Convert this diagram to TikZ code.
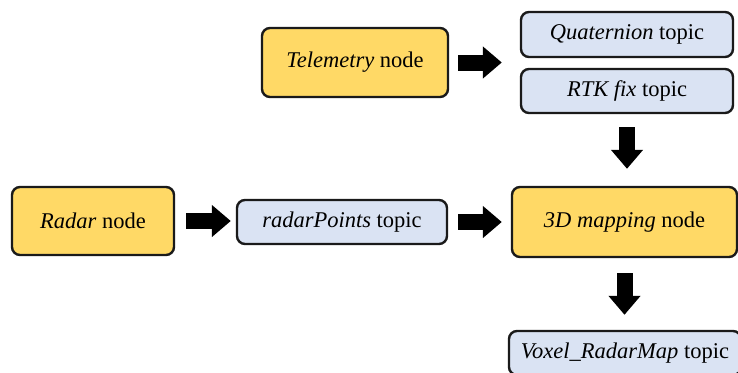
\documentclass[tikz,border=0pt]{standalone}
\usepackage{fontspec}
\setmainfont{Liberation Serif}
\usetikzlibrary{arrows.meta,calc}
\definecolor{nodeY}{HTML}{FFD966}
\definecolor{topicB}{HTML}{DAE3F3}
\definecolor{edgeK}{HTML}{1A1A1A}
\tikzset{
  box/.style={draw=edgeK, line width=2.4pt, rounded corners=8pt, inner sep=0pt,
    font=\fontsize{22.5}{26}\selectfont, align=center},
  rosnode/.style={box, fill=nodeY},
  rostopic/.style={box, fill=topicB},
  fatarrow/.style={line width=16pt, -{Triangle[length=19pt,width=31pt]}},
}
\begin{document}
\begin{tikzpicture}[x=1pt,y=-1pt]
\useasboundingbox (0,0) rectangle (738,372);
\begin{scope}
\clip (0,0) rectangle (738,372);
\node[rosnode, minimum width=186pt, minimum height=69pt] (tel) at (355,62.5) {\textit{Telemetry} node};
\node[rostopic, minimum width=212pt, minimum height=45pt] (quat) at (627,34.5) {\textit{Quaternion} topic};
\node[rostopic, minimum width=212pt, minimum height=44pt] (rtk) at (627,91) {\textit{RTK fix} topic};
\node[rosnode, minimum width=162pt, minimum height=68pt] (radar) at (93,221) {\textit{Radar} node};
\node[rostopic, minimum width=210pt, minimum height=44pt] (rp) at (342,222) {\textit{radarPoints} topic};
\node[rosnode, minimum width=225pt, minimum height=70pt] (map) at (624.5,222) {\textit{3D mapping} node};
\node[rostopic, minimum width=232pt, minimum height=44pt] (vox) at (625,353) {\textit{Voxel\_RadarMap} topic};
\coordinate (qr) at ($(quat.south west)!0.5!(rtk.north west)$);
\draw[fatarrow, shorten <=9pt, shorten >=18pt] (tel.east) -- (tel.east -| qr);
\draw[fatarrow, shorten <=13pt, shorten >=17pt] (rtk.south) -- (map.north -| rtk.south);
\draw[fatarrow, shorten <=11pt, shorten >=5pt] (radar.east) -- (radar.east -| rp.west);
\draw[fatarrow, shorten <=10pt, shorten >=9pt] (rp.east) -- (rp.east -| map.west);
\draw[fatarrow, shorten <=15pt, shorten >=15pt] (map.south) -- (vox.north -| map.south);
\end{scope}
\end{tikzpicture}
\end{document}
